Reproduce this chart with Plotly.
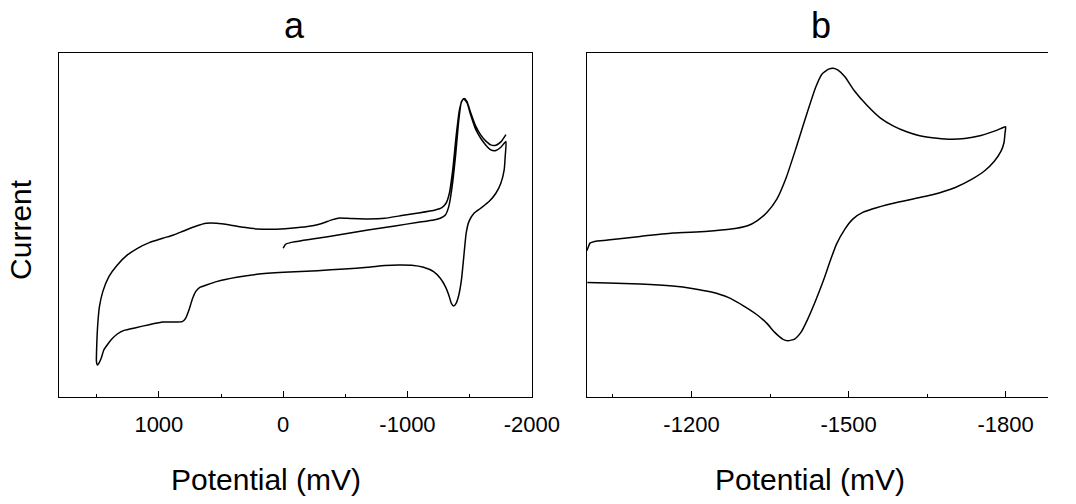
import plotly.graph_objects as go

# ---------------- data ----------------
# Panel a: cyclic voltammogram, potential in mV, current in arbitrary units
potential_a = [0, -19, -59, -276, -465, -682, -899, -1088, -1210, -1264, -1305, -1332, -1359,
               -1386, -1413, -1434, -1453, -1480, -1508, -1548, -1589, -1629, -1670, -1711,
               -1751, -1792,
               -1786, -1778, -1751, -1711, -1656, -1589, -1535, -1494, -1472, -1453, -1434,
               -1413, -1391, -1372, -1353, -1332, -1305, -1264, -1210, -1129, -1034, -926,
               -817, -682, -493, -276, -5, 211, 374, 536, 617, 671, 704, 731, 758, 785, 812,
               861, 969, 1077, 1186, 1280, 1334, 1380, 1416, 1443, 1464, 1483, 1494, 1502,
               1500, 1491, 1478, 1451, 1402, 1334, 1253, 1172, 1077, 969, 882, 807, 698, 617,
               536, 428, 319, 211, 76, -59, -195, -290, -344, -398, -452, -547, -682, -817,
               -953, -1088, -1223, -1277, -1310, -1337, -1364, -1391, -1418, -1440, -1456,
               -1479, -1508, -1548, -1589, -1629, -1670, -1711, -1751, -1792]
current_a = [44.5, 45.7, 46.2, 47.5, 48.6, 50.0, 51.2, 52.3, 53.0, 53.5, 54.5, 57.0, 63.0,
             72.0, 83.0, 88.5, 89.3, 88.0, 84.5, 80.2, 77.5, 75.5, 74.0, 73.8, 74.8, 76.5,
             72.0, 68.0, 64.0, 61.0, 58.5, 56.5, 55.0, 52.5, 49.0, 42.0, 35.0, 30.5, 28.0,
             27.2, 28.0, 30.5, 33.0, 35.5, 37.5, 38.8, 39.4, 39.5, 39.3, 38.8, 38.3, 37.8,
             37.3, 36.7, 35.8, 34.5, 33.5, 32.8, 31.5, 29.2, 26.0, 23.5, 22.5, 22.4, 22.4,
             21.6, 20.7, 19.9, 18.8, 17.2, 15.5, 14.0, 11.5, 10.0, 9.5, 10.5, 15.0, 22.0,
             27.0, 31.5, 36.0, 39.5, 42.5, 44.5, 46.2, 47.5, 48.5, 49.6, 51.2, 52.0, 52.0,
             51.5, 50.8, 50.3, 50.2, 50.5, 51.0, 51.7, 52.4, 53.1, 53.6, 53.4, 53.3, 53.5,
             54.3, 55.1, 56.0, 56.7, 58.0, 61.0, 68.0, 78.0, 86.0, 88.8, 89.4, 88.5, 85.2,
             81.2, 78.5, 76.7, 75.5, 75.4, 76.4, 78.6]

# Panel b: cyclic voltammogram, potential in mV, current in arbitrary units
potential_b = [-1000, -1003, -1006, -1015, -1040, -1102, -1164, -1226, -1276, -1307, -1325,
               -1344, -1363, -1381, -1400, -1418, -1437, -1449, -1462, -1471, -1480, -1493,
               -1511, -1536, -1561, -1586, -1611, -1636, -1660, -1691, -1722, -1753, -1784,
               -1800,
               -1799, -1797, -1791, -1778, -1760, -1735, -1704, -1660, -1598, -1555, -1527,
               -1508, -1493, -1477, -1465, -1453, -1437, -1422, -1409, -1397, -1384, -1374,
               -1359, -1344, -1325, -1300, -1270, -1238, -1201, -1164, -1102, -1040, -1001]
current_b = [43.8, 45.0, 46.1, 46.6, 47.0, 48.1, 49.1, 49.6, 50.3, 51.3, 52.8, 55.3, 59.3,
             65.8, 74.8, 83.8, 92.8, 96.8, 98.3, 98.6, 98.0, 96.0, 91.8, 87.3, 83.6, 81.2,
             79.5, 78.3, 77.7, 77.3, 77.5, 78.4, 80.0, 81.0,
             79.3, 76.3, 73.6, 70.6, 67.8, 65.2, 62.8, 60.6, 58.5, 56.8, 55.3, 53.3, 50.3,
             45.8, 40.8, 35.3, 28.8, 23.3, 19.3, 17.3, 16.8, 17.3, 19.3, 22.0, 24.6, 27.2,
             29.8, 31.4, 32.5, 33.2, 33.8, 34.1, 34.3]

# tick labels
ticks_a = [1000, 0, -1000, -2000]
ticklabels_a = ["1000", "0", "-1000", "-2000"]
minor_a = [1500, 500, -500, -1500]
ticks_b = [-1200, -1500, -1800]
ticklabels_b = ["-1200", "-1500", "-1800"]
minor_b = [-1050, -1350, -1650]

panel_titles = ["a", "b"]
x_title = "Potential (mV)"
y_title = "Current"

# ---------------- figure ----------------
W, H = 1076, 504
FONT = "Liberation Sans, Arial, sans-serif"

fig = go.Figure()
fig.add_trace(go.Scatter(x=potential_a, y=current_a, mode="lines",
                         line=dict(color="black", width=1.5, shape="spline", smoothing=0.5),
                         xaxis="x", yaxis="y", showlegend=False, hoverinfo="skip"))
fig.add_trace(go.Scatter(x=potential_b, y=current_b, mode="lines",
                         line=dict(color="black", width=1.5, shape="spline", smoothing=0.5),
                         xaxis="x2", yaxis="y2", showlegend=False, hoverinfo="skip"))

ydom = [(H - 396.7) / H, (H - 52.5) / H]

common_x = dict(showline=True, linecolor="black", linewidth=1, showgrid=False, zeroline=False,
                ticks="inside", ticklen=6, tickwidth=1, tickcolor="black",
                tickfont=dict(family=FONT, size=22, color="black"),
                ticklabelstandoff=8)
common_y = dict(showline=True, linecolor="black", linewidth=1, showgrid=False, zeroline=False,
                ticks="", showticklabels=False)

fig.update_layout(
    width=W, height=H, margin=dict(l=0, r=0, t=0, b=0),
    paper_bgcolor="white", plot_bgcolor="white",
    xaxis=dict(domain=[61 / W, 546 / W], range=[1800, -2000], anchor="y", mirror=True,
               tickmode="array", tickvals=ticks_a, ticktext=ticklabels_a,
               minor=dict(ticks="inside", ticklen=3, tickcolor="black", tickmode="array",
                          tickvals=minor_a),
               **common_x),
    yaxis=dict(domain=ydom, range=[0, 103.2], anchor="x", mirror=True, **common_y),
    xaxis2=dict(domain=[602.5 / W, 1.0], range=[-1000, -1881], anchor="y2", mirror=True,
                tickmode="array", tickvals=ticks_b, ticktext=ticklabels_b,
                minor=dict(ticks="inside", ticklen=3, tickcolor="black", tickmode="array",
                           tickvals=minor_b),
                **common_x),
    yaxis2=dict(domain=ydom, range=[0, 103.3], anchor="x2", mirror=False, **common_y),
)

def ann(text, x, y, size, angle=0):
    fig.add_annotation(text=text, x=x / W, y=1 - y / H, xref="paper", yref="paper",
                       showarrow=False, xanchor="center", yanchor="middle", textangle=angle,
                       font=dict(family=FONT, size=size, color="black"))

ann(panel_titles[0], 302, 25, 36)
ann(panel_titles[1], 843, 25, 36)
ann(x_title, 273, 479, 30)
ann(x_title, 832, 479, 30)
ann(y_title, 21.5, 229, 30, angle=-90)

fig.write_html("out.html")
